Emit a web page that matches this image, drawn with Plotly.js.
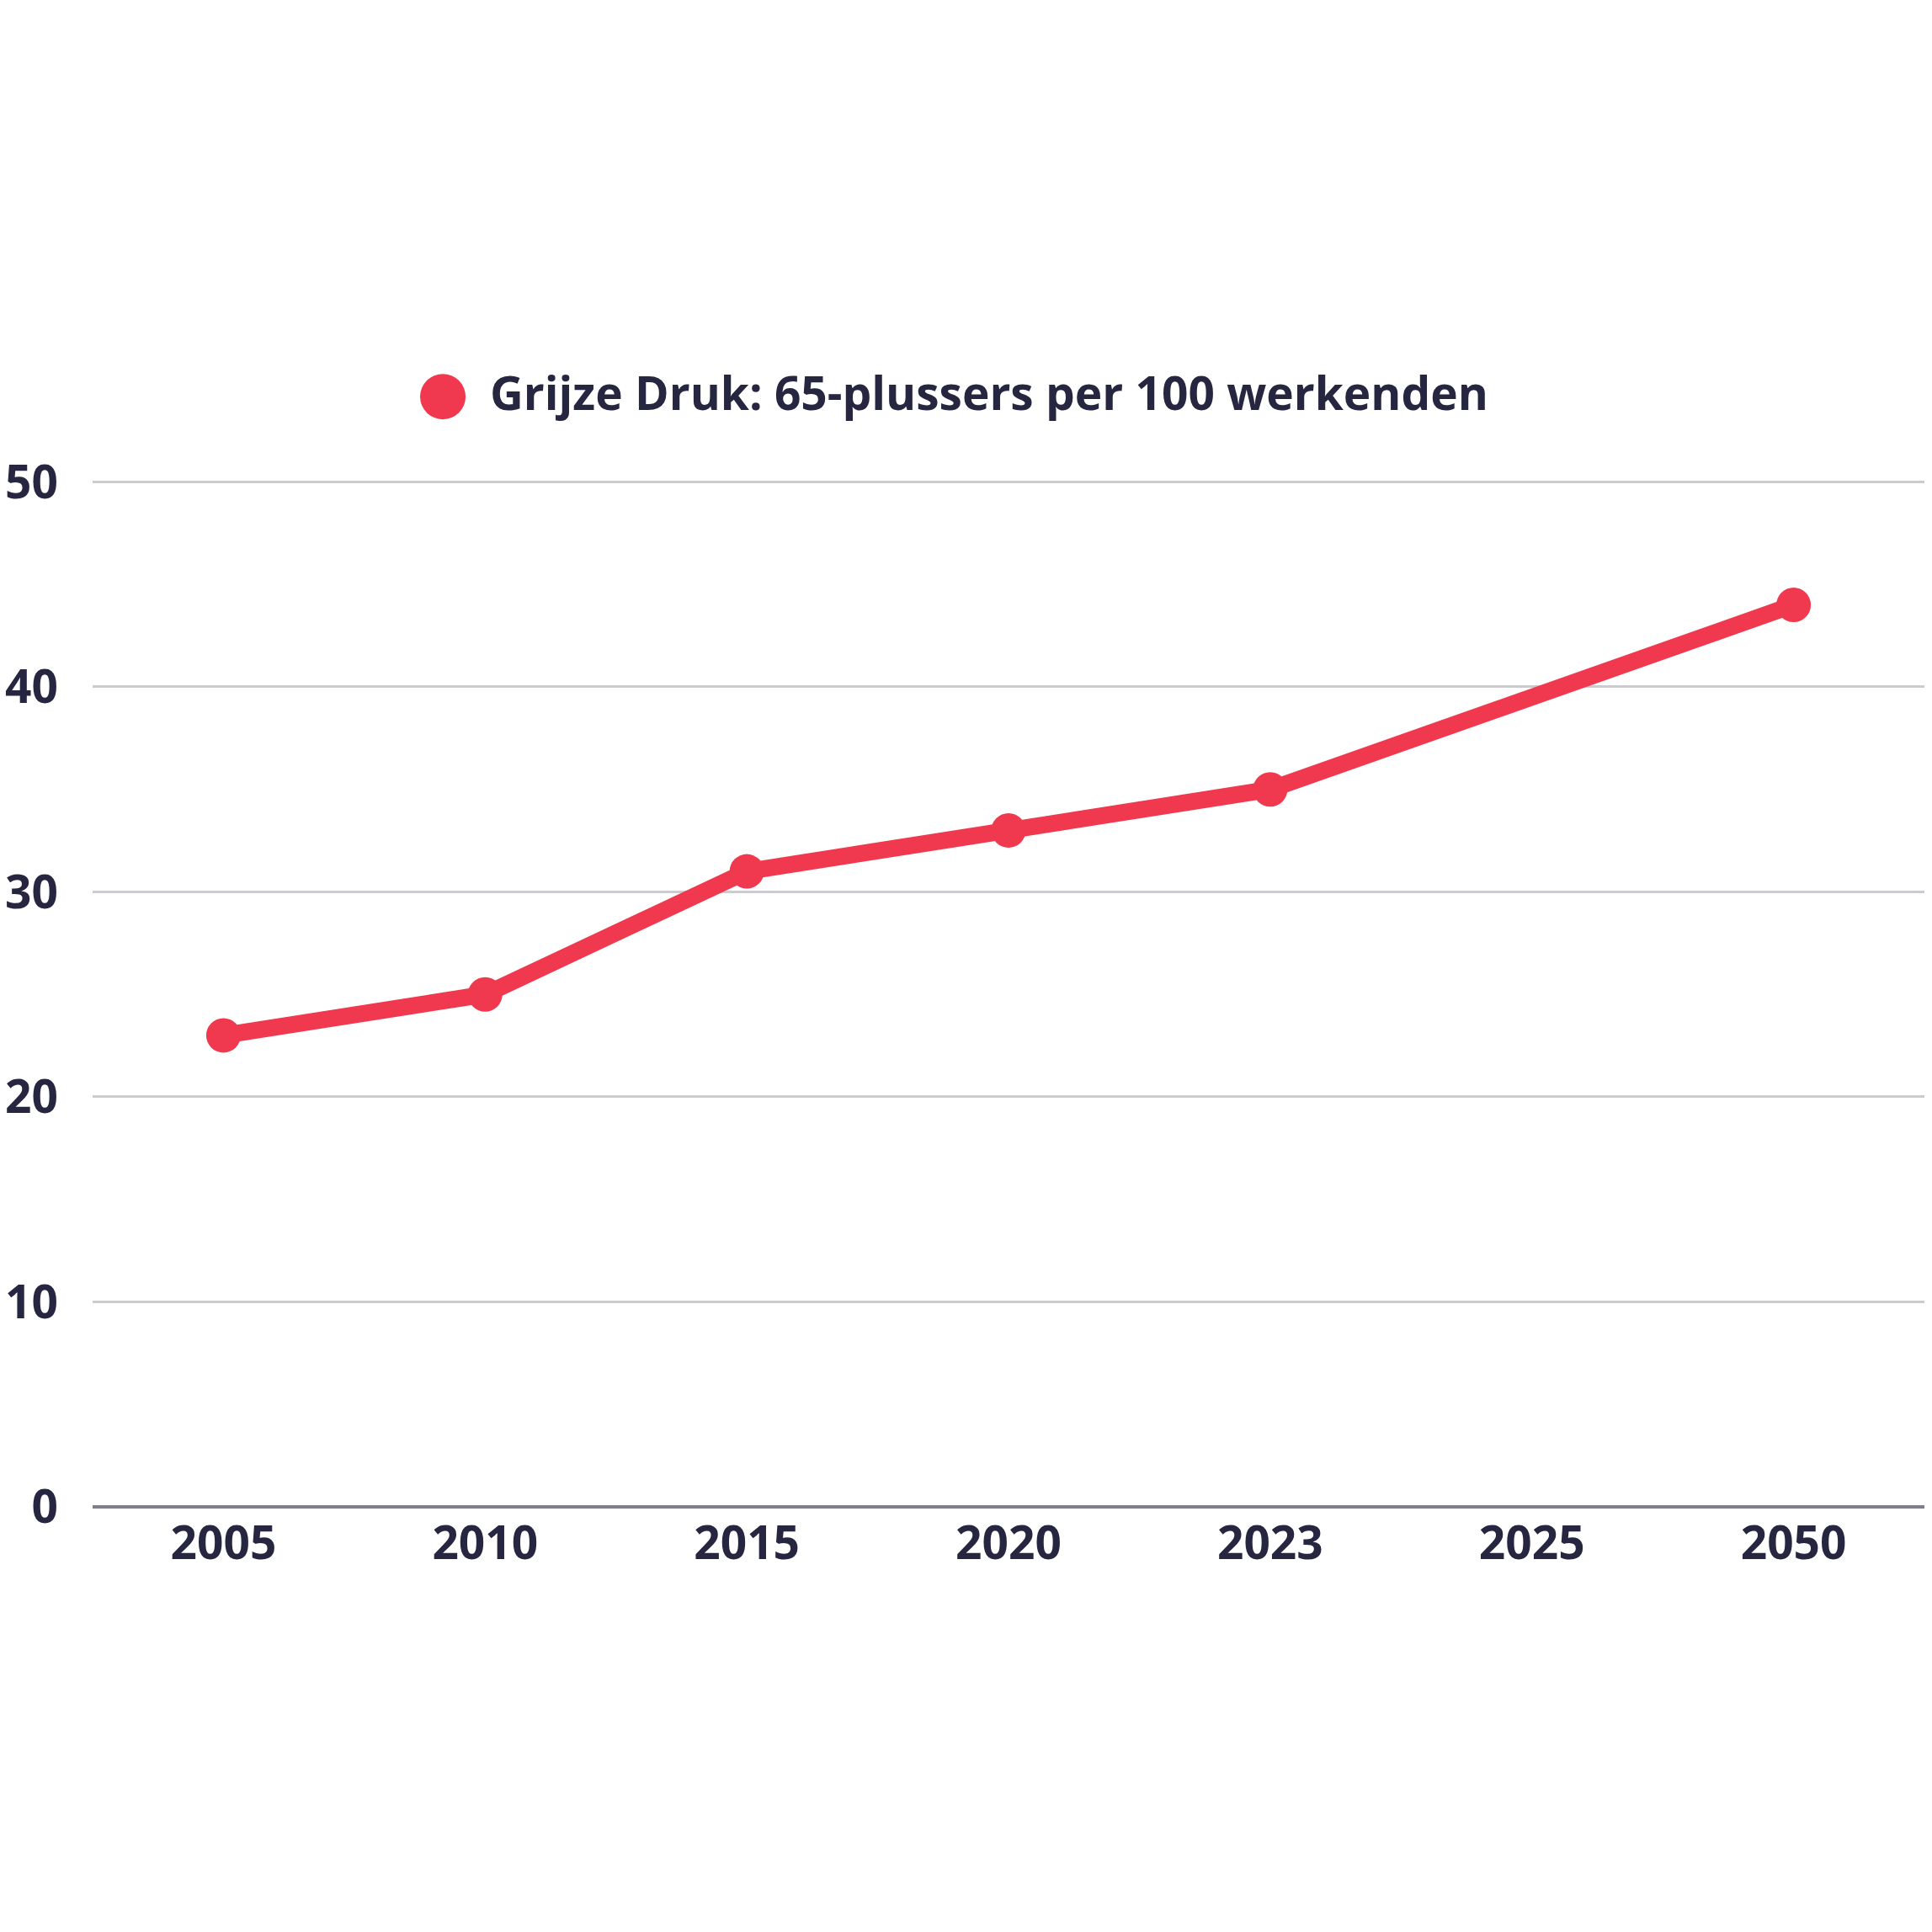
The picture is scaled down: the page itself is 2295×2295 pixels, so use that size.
<!DOCTYPE html>
<html>
<head>
<meta charset="utf-8">
<script src="https://cdn.plot.ly/plotly-3.0.1.min.js"></script>
<style>
  html, body { margin: 0; padding: 0; background: #fff; }
  #chart { width: 2295px; height: 2295px; }
</style>
</head>
<body>
<div id="chart"></div>
<script>
// jaartallen en grijze druk (65-plussers per 100 werkenden)
var jaren = ['2005', '2010', '2015', '2020', '2023', '2025', '2050'];
var grijzeDruk = [23, 25, 31, 33, 35, null, 44];
var yTicks = [0, 10, 20, 30, 40, 50];
var reeksNaam = 'Grijze Druk: 65-plussers per 100 werkenden';

var rood = '#f0394e';
var tekst = '#262640';

var trace = {
  x: jaren,
  y: grijzeDruk,
  type: 'scatter',
  mode: 'lines+markers',
  name: reeksNaam,
  connectgaps: true,
  showlegend: false,
  cliponaxis: false,
  line: { color: rood, width: 20 },
  marker: { color: rood, size: 41 }
};

var tickFont = { family: 'Open Sans', size: 55, weight: 700, color: tekst };

var layout = {
  width: 2295,
  height: 2295,
  margin: { l: 110, r: 9, t: 570, b: 505 },
  paper_bgcolor: '#fff',
  plot_bgcolor: '#fff',
  font: tickFont,
  xaxis: {
    type: 'category',
    range: [-0.5, 6.5],
    showgrid: false,
    showline: false,
    zeroline: false,
    ticks: '',
    ticklabelstandoff: 6,
    tickfont: tickFont,
    fixedrange: true
  },
  yaxis: {
    range: [0, 50.1],
    tickvals: yTicks,
    showgrid: true,
    gridcolor: '#cbcbd0',
    gridwidth: 3,
    zeroline: true,
    zerolinecolor: '#7f7e8b',
    zerolinewidth: 4,
    showline: false,
    ticks: '',
    ticklabelstandoff: 40,
    tickfont: tickFont,
    fixedrange: true
  },
  // eigen legenda: grote stip + tekst
  shapes: [{
    type: 'circle',
    xref: 'paper', yref: 'paper',
    xsizemode: 'pixel', ysizemode: 'pixel',
    xanchor: 0.1912, yanchor: 1.081,
    x0: -27, x1: 27, y0: -27, y1: 27,
    fillcolor: rood,
    line: { width: 0 }
  }],
  annotations: [{
    text: reeksNaam,
    xref: 'paper', yref: 'paper',
    x: 0.2158, y: 1.0858,
    xanchor: 'left', yanchor: 'middle',
    showarrow: false,
    font: tickFont
  }]
};

var config = { displayModeBar: false, staticPlot: true };

Plotly.newPlot('chart', [trace], layout, config);
</script>
</body>
</html>
